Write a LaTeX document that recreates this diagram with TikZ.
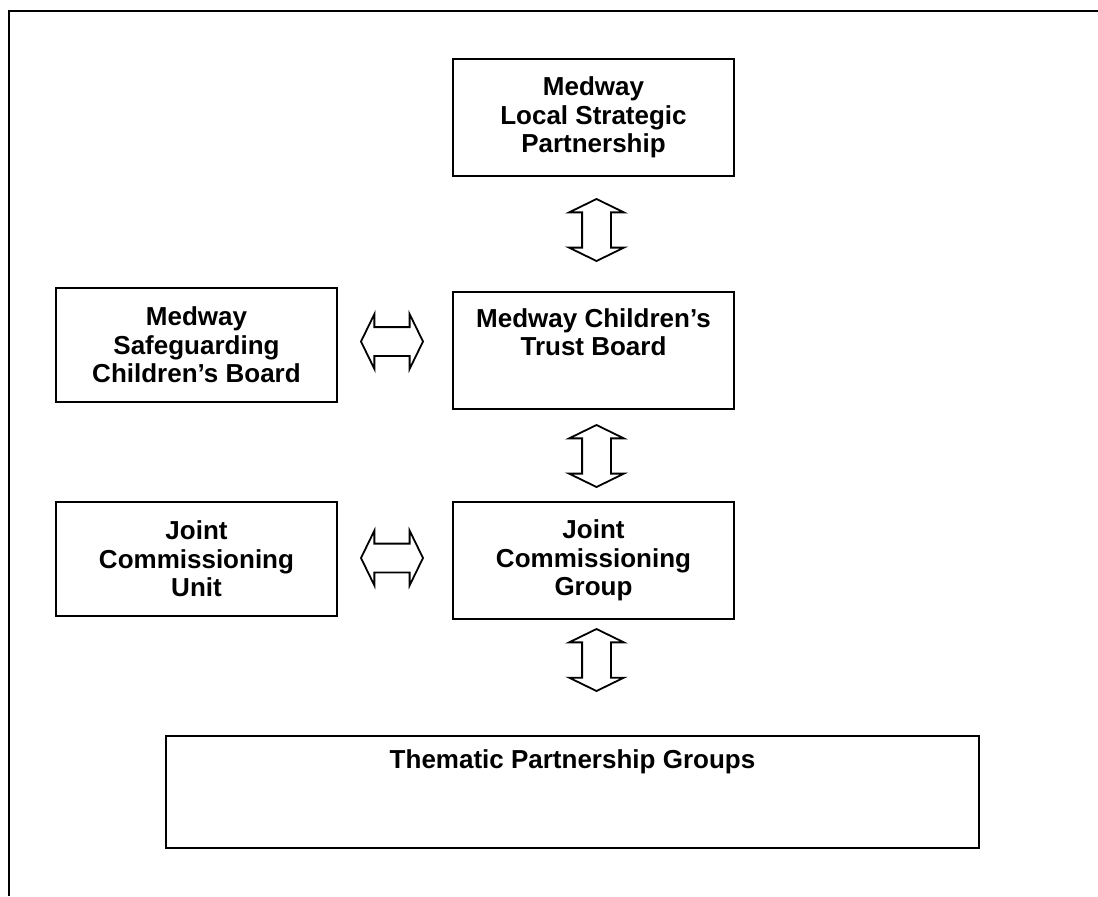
\documentclass[tikz,border=0pt]{standalone}
\usepackage{fontspec}
\setmainfont{Liberation Sans}
\usetikzlibrary{calc, shapes.arrows, positioning}
\tikzstyle{box} = [draw, line width=1pt, minimum width=140.5pt, minimum height=58.5pt, align=center, inner sep=0pt]
\tikzstyle{dblarrow} = [draw, line width=0.9pt, double arrow, double arrow head extend=6.5pt, double arrow tip angle=128, inner xsep=0pt, inner ysep=6.75pt, minimum height=31pt]

\begin{document}
\begin{tikzpicture}
    [
        x=0.5pt, y=-0.5pt,
        font=\fontsize{13}{14.3}\selectfont\bfseries,
        frame/.style={draw, line width=1.2pt}
    ]
    \useasboundingbox (0,0) rectangle (1098,896);

    % outer frame, only top and left edges show
    \draw[frame] (9,896) -- (9,11) -- (1098,11);

    \node[box] (lsp) at (593.5,117.5) {Medway\\Local Strategic\\Partnership};
    \node[box, minimum height=57pt] (mscb) at (196.5,345) {Medway\\Safeguarding\\Children’s Board};
    \node[box] (mctb) at (593.5,350.5) {Medway Children’s\\Trust Board\\\strut};
    \node[box, minimum height=57pt] (jcu) at (196.5,559) {Joint\\Commissioning\\Unit};
    \node[box] (jcg) at (593.5,560.5) {Joint\\Commissioning\\Group};
    \node[box, minimum width=406.5pt, minimum height=56pt] (tpg) at (572.5,792) {Thematic Partnership Groups\\\strut\\\strut};

    % two-way block arrows
    \node[dblarrow, rotate=90] (lsp_mctb) at ($(lsp.south)+(3,53)$) {};
    \node[dblarrow] (mscb_mctb) at ($(mscb.east)+(54,-3.5)$) {};
    \node[dblarrow, rotate=90] (mctb_jcg) at ($(mctb.south)+(3,46)$) {};
    \node[dblarrow] (jcu_jcg) at ($(jcu.east)+(54,-1)$) {};
    \node[dblarrow, rotate=90] (jcg_tpg) at ($(jcg.south)+(3,40)$) {};
\end{tikzpicture}
\end{document}
